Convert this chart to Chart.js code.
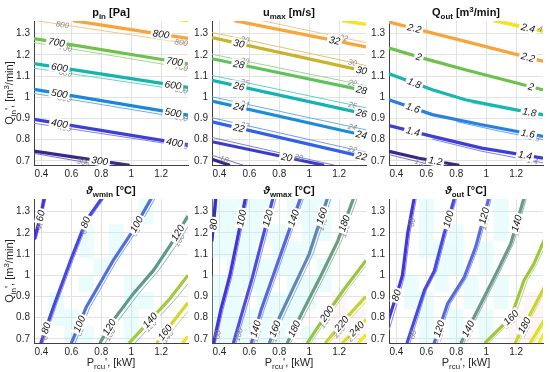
<!DOCTYPE html>
<html>
<head>
<meta charset="utf-8">
<script src="https://cdn.jsdelivr.net/npm/chart.js@4.4.1/dist/chart.umd.min.js"></script>
<style>
  html, body { margin: 0; padding: 0; background: #fff; }
  #wrap { position: relative; width: 550px; height: 372px; }
  #wrap canvas { position: absolute; left: 0; top: 0; }
</style>
</head>
<body>
<div id="wrap"></div>
<script>
// axes
var xTicks = [0.4, 0.6, 0.8, 1, 1.2];
var yTicks = [0.7, 0.8, 0.9, 1, 1.1, 1.2, 1.3];
var xRange = [0.35, 1.38];
var yRange = [0.68, 1.36];

// p_in [Pa]
var pinLevels = [300, 400, 500, 600, 700, 800, 900];
var pinThick = [
  [[0.35,0.746],[0.99,0.678]],
  [[0.35,0.896],[1.38,0.776]],
  [[0.35,1.037],[1.38,0.915]],
  [[0.35,1.159],[1.38,1.046]],
  [[0.35,1.277],[1.38,1.158]],
  [[0.61,1.362],[1.38,1.278]],
  [[1.31,1.368],[1.38,1.360]]
];
var pinThinLevels = [300, 400, 500, 600, 700, 800];
var pinThin = [
  [[0.35,0.735],[0.80,0.679]],
  [[0.35,0.877],[1.38,0.766]],
  [[0.35,1.018],[1.38,0.898]],
  [[0.35,1.137],[1.38,1.029]],
  [[0.35,1.258],[1.38,1.136]],
  [[0.35,1.363],[1.38,1.254]]
];

// u_max [m/s]
var umaxLevels = [18, 20, 22, 24, 26, 28, 30, 32, 34];
var umaxThick = [
  [[0.35,0.707],[0.47,0.679]],
  [[0.35,0.790],[1.10,0.679]],
  [[0.35,0.884],[1.38,0.716]],
  [[0.35,0.982],[1.38,0.818]],
  [[0.35,1.080],[1.38,0.920]],
  [[0.35,1.182],[1.38,1.030]],
  [[0.35,1.282],[1.38,1.122]],
  [[0.50,1.362],[1.38,1.238]],
  [[1.22,1.362],[1.38,1.344]]
];
var umaxThinLevels = [18, 20, 22, 24, 26, 28, 30, 32];
var umaxThin = [
  [[0.35,0.726],[0.56,0.679]],
  [[0.35,0.810],[1.17,0.679]],
  [[0.35,0.903],[1.38,0.740]],
  [[0.35,1.002],[1.38,0.846]],
  [[0.35,1.103],[1.38,0.950]],
  [[0.35,1.203],[1.38,1.055]],
  [[0.35,1.306],[1.38,1.150]],
  [[0.68,1.362],[1.38,1.258]]
];

// Q_out [m3/min]
var qoutLevels = [1.2, 1.4, 1.6, 1.8, 2, 2.2, 2.4];
var qoutThick = [
  [[0.35,0.745],[0.55,0.712],[0.82,0.679]],
  [[0.35,0.866],[0.64,0.815],[0.97,0.760],[1.38,0.712]],
  [[0.35,0.988],[0.64,0.918],[0.97,0.870],[1.38,0.815]],
  [[0.35,1.111],[0.64,1.035],[0.86,0.988],[1.20,0.941],[1.38,0.918]],
  [[0.35,1.232],[0.60,1.180],[0.86,1.130],[1.38,1.035]],
  [[0.35,1.355],[0.86,1.264],[1.38,1.170]],
  [[1.05,1.362],[1.38,1.311]]
];
var qoutThinLevels = [1.2, 1.4, 1.6, 1.8, 2, 2.2, 2.4];
var qoutThin = [
  [[0.35,0.729],[0.64,0.679]],
  [[0.64,0.802],[0.97,0.745],[1.38,0.690]],
  [[0.80,0.885],[1.10,0.838],[1.38,0.800]],
  [[0.90,0.974],[1.38,0.911]],
  [[1.00,1.105],[1.38,1.030]],
  [[1.00,1.238],[1.38,1.165]],
  [[1.10,1.362],[1.38,1.320]]
];

// theta_wmin [°C]
var wminLevels = [60, 80, 100, 120, 140, 160, 180];
var wminThick = [
  [[0.352,1.17],[0.39,1.27],[0.42,1.37]],
  [[0.395,0.679],[0.49,0.87],[0.60,1.08],[0.70,1.26],[0.81,1.37]],
  [[0.60,0.679],[0.70,0.85],[0.79,0.96],[0.88,1.07],[1.014,1.213],[1.14,1.37]],
  [[0.79,0.679],[0.88,0.787],[1.014,0.913],[1.15,1.024],[1.26,1.14],[1.38,1.28]],
  [[0.985,0.679],[1.126,0.787],[1.26,0.89],[1.38,1.0]],
  [[1.17,0.679],[1.28,0.78],[1.38,0.87]],
  [[1.34,0.679],[1.38,0.71]]
];
var wminThinLevels = [40, 60, 80, 100, 120, 140];
var wminThin = [
  [[0.365,1.17],[0.40,1.27],[0.432,1.37]],
  [[0.41,0.679],[0.505,0.87],[0.615,1.08],[0.715,1.26],[0.825,1.37]],
  [[0.625,0.679],[0.725,0.85],[0.815,0.96],[0.905,1.07],[1.04,1.213],[1.165,1.37]],
  [[0.825,0.679],[0.915,0.787],[1.05,0.913],[1.185,1.024],[1.30,1.14],[1.38,1.23]],
  [[1.025,0.679],[1.165,0.787],[1.30,0.89],[1.38,0.96]],
  [[1.21,0.679],[1.31,0.77],[1.38,0.83]]
];

// theta_wmax [°C]
var wmaxLevels = [80, 100, 120, 140, 160, 180, 200, 220, 240, 260];
var wmaxThick = [
  [[0.349,1.16],[0.362,1.26],[0.375,1.37]],
  [[0.36,0.679],[0.41,0.84],[0.47,1.0],[0.525,1.19],[0.575,1.37]],
  [[0.493,0.679],[0.55,0.82],[0.62,0.99],[0.69,1.18],[0.76,1.37]],
  [[0.613,0.679],[0.68,0.84],[0.77,1.02],[0.86,1.2],[0.945,1.37]],
  [[0.733,0.679],[0.80,0.80],[0.90,0.95],[1.0,1.1],[1.125,1.37]],
  [[0.853,0.679],[0.95,0.82],[1.08,1.0],[1.19,1.16],[1.30,1.37]],
  [[0.987,0.679],[1.10,0.80],[1.23,0.93],[1.38,1.07]],
  [[1.107,0.679],[1.25,0.80],[1.38,0.90]],
  [[1.22,0.679],[1.38,0.79]],
  [[1.327,0.679],[1.38,0.72]]
];
var wmaxThinLevels = [60, 80, 100, 120, 140, 160, 180, 200, 220];
var wmaxThin = [
  [[0.356,1.17],[0.385,1.37]],
  [[0.372,0.679],[0.425,0.84],[0.485,1.0],[0.54,1.19],[0.59,1.37]],
  [[0.51,0.679],[0.57,0.82],[0.64,0.99],[0.71,1.18],[0.78,1.37]],
  [[0.632,0.679],[0.70,0.84],[0.79,1.02],[0.88,1.2],[0.965,1.37]],
  [[0.755,0.679],[0.825,0.80],[0.925,0.95],[1.025,1.1],[1.15,1.37]],
  [[0.875,0.679],[0.975,0.82],[1.105,1.0],[1.215,1.16],[1.325,1.37]],
  [[1.01,0.679],[1.125,0.80],[1.255,0.93],[1.38,1.045]],
  [[1.13,0.679],[1.27,0.79],[1.38,0.875]],
  [[1.245,0.679],[1.38,0.77]]
];

// theta_out [°C]
var toutLevels = [80, 100, 120, 140, 160, 180, 200, 220];
var toutThick = [
  [[0.34,0.775],[0.40,0.905],[0.44,1.0],[0.475,1.2],[0.52,1.37]],
  [[0.47,0.679],[0.587,0.93],[0.653,1.02],[0.72,1.2],[0.79,1.37]],
  [[0.652,0.679],[0.742,0.866],[0.853,0.99],[0.93,1.134],[1.02,1.37]],
  [[0.83,0.679],[0.953,0.85],[1.075,1.02],[1.165,1.15],[1.255,1.37]],
  [[0.99,0.679],[1.165,0.80],[1.253,0.976],[1.32,1.055],[1.39,1.17]],
  [[1.193,0.679],[1.275,0.79],[1.39,0.945]],
  [[1.293,0.679],[1.39,0.79]],
  [[1.353,0.679],[1.39,0.73]]
];
var toutThinLevels = [60, 80, 100, 120, 140, 160, 180];
var toutThin = [
  [[0.35,0.74],[0.41,0.88],[0.455,1.0],[0.49,1.2],[0.535,1.37]],
  [[0.49,0.679],[0.60,0.93],[0.668,1.02],[0.735,1.2],[0.805,1.37]],
  [[0.672,0.679],[0.76,0.866],[0.87,0.99],[0.947,1.134],[1.037,1.37]],
  [[0.85,0.679],[0.972,0.85],[1.093,1.02],[1.182,1.15],[1.272,1.37]],
  [[1.015,0.679],[1.19,0.80],[1.275,0.976],[1.34,1.055],[1.39,1.13]],
  [[1.215,0.679],[1.295,0.79],[1.39,0.92]],
  [[1.315,0.679],[1.39,0.77]]
];

// faint background cells of the lower panels (1 cyan, -1 pink), rows bottom to top
var cellX = [0.35, 0.45, 0.55, 0.65, 0.75, 0.85, 0.95, 1.05, 1.15, 1.25, 1.38];
var cellY = [0.68, 0.76, 0.84, 0.92, 1.0, 1.08, 1.16, 1.24, 1.36];
var wminCells = [
  [0,0,1,1,0,0,1,0,0,0],
  [0,1,1,0,0,0,1,0,0,0],
  [0,1,0,0,0,0,1,1,0,0],
  [0,0,0,1,0,0,1,0,0,0],
  [0,0,0,0,1,0,0,0,0,0],
  [0,0,0,1,0,1,0,0,0,0],
  [0,0,0,1,0,1,0,0,0,0],
  [0,0,0,0,0,0,0,1,0,0]
];
var wmaxCells = [
  [1,1,1,1,1,0,1,0,-1,-1],
  [1,1,1,1,1,1,0,0,-1,-1],
  [1,1,0,1,1,1,1,0,-1,0],
  [1,1,1,1,0,1,1,1,0,0],
  [0,1,1,1,1,1,0,1,0,0],
  [1,1,1,0,1,1,1,0,0,0],
  [1,1,1,1,1,0,1,1,0,0],
  [1,1,1,1,0,1,1,1,0,0]
];
var toutCells = [
  [0,0,1,0,1,0,1,0,-1,-1],
  [0,0,1,0,1,0,1,0,-1,-1],
  [0,1,1,0,0,1,0,1,0,-1],
  [0,1,0,1,0,1,0,1,0,0],
  [0,0,0,1,1,0,1,0,0,0],
  [0,0,1,1,1,0,1,0,0,0],
  [0,0,1,0,1,0,0,1,0,0],
  [0,0,1,0,0,0,0,1,0,0]
];

var FONT = "'Liberation Sans', Arial, Helvetica, sans-serif";

// rich text: parts = [[text, kind]], kind '' | 'sub' | 'sup' | 'it'
function richWidth(ctx, parts, size, weight) {
  var w = 0;
  parts.forEach(function (p) {
    var s = (p[1] == 'sub' || p[1] == 'sup') ? size * 0.72 : size;
    ctx.font = (p[1] == 'it' ? 'italic ' : '') + weight + ' ' + s + 'px ' + FONT;
    w += ctx.measureText(p[0]).width;
  });
  return w;
}
function drawRich(ctx, parts, x, y, size, weight) {
  var w = richWidth(ctx, parts, size, weight);
  var cx = x - w / 2;
  ctx.textBaseline = 'alphabetic';
  ctx.textAlign = 'left';
  parts.forEach(function (p) {
    var s = size, dy = 0;
    if (p[1] == 'sub') { s = size * 0.72; dy = size * 0.3; }
    if (p[1] == 'sup') { s = size * 0.72; dy = -size * 0.4; }
    ctx.font = (p[1] == 'it' ? 'italic ' : '') + weight + ' ' + s + 'px ' + FONT;
    ctx.fillText(p[0], cx, y + dy);
    cx += ctx.measureText(p[0]).width;
  });
}

function fmt(v) { return String(Math.round(v * 10) / 10); }

// position of a contour label along a polyline, by x or by y value
function labelPoint(chart, data, key, v) {
  var xs = chart.scales.x, ys = chart.scales.y;
  for (var i = 0; i < data.length - 1; i++) {
    var a = data[i], b = data[i + 1];
    if ((v - a[key]) * (v - b[key]) <= 0 && a[key] != b[key]) {
      var t = (v - a[key]) / (b[key] - a[key]);
      var ax = xs.getPixelForValue(a.x), ay = ys.getPixelForValue(a.y);
      var bx = xs.getPixelForValue(b.x), by = ys.getPixelForValue(b.y);
      var ang = Math.atan2(by - ay, bx - ax);
      if (ang > Math.PI / 2) ang -= Math.PI;
      if (ang < -Math.PI / 2) ang += Math.PI;
      return { x: ax + t * (bx - ax), y: ay + t * (by - ay), ang: ang };
    }
  }
  return null;
}

var cellShade = {
  id: 'cellShade',
  beforeDatasetsDraw: function (chart) {
    var cells = chart.options.plugins.cellShade.cells;
    if (!cells) return;
    var ctx = chart.ctx, xs = chart.scales.x, ys = chart.scales.y, a = chart.chartArea;
    ctx.save();
    ctx.beginPath();
    ctx.rect(a.left, a.top, a.right - a.left, a.bottom - a.top);
    ctx.clip();
    cells.forEach(function (row, r) {
      row.forEach(function (c, k) {
        if (!c) return;
        ctx.fillStyle = c > 0 ? 'rgba(190,246,246,0.3)' : 'rgba(252,222,228,0.3)';
        var x0 = xs.getPixelForValue(cellX[k]), x1 = xs.getPixelForValue(cellX[k + 1]);
        var y0 = ys.getPixelForValue(cellY[r]), y1 = ys.getPixelForValue(cellY[r + 1]);
        ctx.fillRect(x0, y1, x1 - x0, y0 - y1);
      });
    });
    ctx.restore();
  }
};

var contourLabels = {
  id: 'contourLabels',
  afterDatasetsDraw: function (chart) {
    var ctx = chart.ctx;
    var key = chart.options.plugins.contourLabels.byY ? 'y' : 'x';
    [false, true].forEach(function (thickPass) {
      chart.data.datasets.forEach(function (ds) {
        if (!!ds.thick != thickPass || !ds.labelAt) return;
        ds.labelAt.forEach(function (v) {
          var p = labelPoint(chart, ds.data, key, v);
          if (!p) return;
          ctx.save();
          ctx.translate(p.x, p.y);
          ctx.rotate(p.ang);
          ctx.textAlign = 'center';
          ctx.textBaseline = 'middle';
          if (ds.thick) {
            ctx.font = 'italic 10px ' + FONT;
            var w = ctx.measureText(ds.labelText).width;
            ctx.fillStyle = '#fff';
            ctx.fillRect(-w / 2 - 2, -5, w + 4, 10);
            ctx.fillStyle = '#111';
          } else {
            ctx.font = 'italic 8px ' + FONT;
            ctx.fillStyle = '#8c8c8c';
          }
          ctx.fillText(ds.labelText, 0, 0.5);
          ctx.restore();
        });
      });
    });
  }
};

var panelText = {
  id: 'panelText',
  afterDraw: function (chart) {
    var o = chart.options.plugins.panelText, ctx = chart.ctx, a = chart.chartArea;
    ctx.save();
    ctx.fillStyle = '#111';
    drawRich(ctx, o.title, (a.left + a.right) / 2, a.top - 5, 11, 'bold');
    ctx.fillStyle = '#262626';
    if (o.yTitle) {
      ctx.save();
      ctx.translate(13, (a.top + a.bottom) / 2);
      ctx.rotate(-Math.PI / 2);
      drawRich(ctx, o.yTitle, 0, 0, 11, 'normal');
      ctx.restore();
    }
    if (o.xTitle) drawRich(ctx, o.xTitle, (a.left + a.right) / 2, a.bottom + 23, 11, 'normal');
    ctx.restore();
  }
};

function toPts(line) { return line.map(function (p) { return { x: p[0], y: p[1] }; }); }

function makePanel(p) {
  var cv = document.createElement('canvas');
  cv.width = 550; cv.height = 372;
  document.getElementById('wrap').appendChild(cv);
  var YW = 30, XH = 16;
  var datasets = [];
  p.thick.forEach(function (line, i) {
    datasets.push({
      data: toPts(line), borderColor: p.colors[i], borderWidth: 3.2, order: 0,
      thick: true, labelText: fmt(p.levels[i]), labelAt: p.labelAt[i]
    });
  });
  p.thin.forEach(function (line, i) {
    datasets.push({
      data: toPts(line), borderColor: p.thinColors[i], borderWidth: 1, order: 1,
      thick: false, labelText: fmt(p.thinLevels[i]), labelAt: p.thinLabelAt[i]
    });
  });
  new Chart(cv.getContext('2d'), {
    type: 'line',
    data: { datasets: datasets },
    options: {
      responsive: false,
      animation: false,
      events: [],
      layout: { padding: { left: p.left - YW, top: p.top, right: 550 - p.right, bottom: 372 - p.bottom - XH } },
      elements: { point: { radius: 0 }, line: { tension: 0, borderCapStyle: 'butt' } },
      datasets: { line: { clip: 0, fill: false } },
      plugins: {
        legend: { display: false },
        tooltip: { enabled: false },
        cellShade: { cells: p.cells },
        contourLabels: { byY: p.byY },
        panelText: { title: p.title, yTitle: p.yTitle, xTitle: p.xTitle }
      },
      scales: {
        x: {
          type: 'linear', min: xRange[0], max: xRange[1],
          afterBuildTicks: function (s) { s.ticks = xTicks.map(function (v) { return { value: v }; }); },
          afterFit: function (s) { s.height = XH; },
          grid: { color: '#e2e2e2', drawTicks: false },
          border: { color: '#404040', width: 1 },
          ticks: { padding: 3, color: '#262626', font: { family: FONT, size: 10 }, maxRotation: 0, callback: fmt }
        },
        y: {
          type: 'linear', min: yRange[0], max: yRange[1],
          afterBuildTicks: function (s) { s.ticks = yTicks.map(function (v) { return { value: v }; }); },
          afterFit: function (s) { s.width = YW; },
          grid: { color: '#e2e2e2', drawTicks: false },
          border: { color: '#404040', width: 1 },
          ticks: { padding: 4, color: '#262626', font: { family: FONT, size: 10 }, callback: fmt }
        }
      }
    },
    plugins: [cellShade, contourLabels, panelText]
  });
}

var qinTitle = [['Q', ''], ['in', 'sub'], ["', [m", ''], ['3', 'sup'], ['/min]', '']];
var prcuTitle = [['P', ''], ['rcu', 'sub'], ["', [kW]", '']];

makePanel({
  left: 34, right: 188, top: 21, bottom: 165, byY: false,
  title: [['p', ''], ['in', 'sub'], [' [Pa]', '']], yTitle: qinTitle,
  levels: pinLevels, thick: pinThick, thinLevels: pinThinLevels, thin: pinThin,
  colors: ['#352a87', '#3d3fd4', '#1a86dc', '#14b5aa', '#6cc24a', '#f9a43a', '#f4e41c'],
  thinColors: ['#7a70c8', '#8080ea', '#62b2ee', '#64d6c8', '#a2da88', '#f8c486'],
  labelAt: [[0.79], [0.52, 1.29], [0.52, 1.28], [0.52, 1.28], [0.50, 1.29], [1.2], []],
  thinLabelAt: [[0.68], [0.555, 1.335], [0.555, 1.335], [0.56, 1.335], [0.56, 1.335], [0.54, 1.335]]
});
makePanel({
  left: 212, right: 366, top: 21, bottom: 165, byY: false,
  title: [['u', ''], ['max', 'sub'], [' [m/s]', '']],
  levels: umaxLevels, thick: umaxThick, thinLevels: umaxThinLevels, thin: umaxThin,
  colors: ['#352a87', '#3b3cc8', '#2f62e6', '#1a8cd8', '#12b3b2', '#5ec25a', '#c8b42a', '#f8a63a', '#f4e41c'],
  thinColors: ['#7a70c8', '#7e7ee0', '#7896f0', '#62b2e8', '#60d0cc', '#98d894', '#e6c070', '#f8c486'],
  labelAt: [[], [0.85], [0.53, 1.35], [0.53, 1.35], [0.53, 1.35], [0.53, 1.35], [0.53, 1.35], [1.17], []],
  thinLabelAt: [[0.43], [0.93], [0.57, 1.29], [0.57, 1.29], [0.57, 1.29], [0.57, 1.29], [0.57, 1.29], [1.23]]
});
makePanel({
  left: 389, right: 543, top: 21, bottom: 165, byY: false,
  title: [['Q', ''], ['out', 'sub'], [' [m', ''], ['3', 'sup'], ['/min]', '']],
  levels: qoutLevels, thick: qoutThick, thinLevels: qoutThinLevels, thin: qoutThin,
  colors: ['#35288a', '#3e3ed6', '#2a80e0', '#16b7b0', '#6cc14c', '#f8a43c', '#f4e41c'],
  thinColors: ['#7a70c8', '#8080ea', '#62a8ee', '#64d6c8', '#a2da88', '#f8c486', '#f4ea80'],
  labelAt: [[0.66], [0.51, 1.26], [0.51, 1.28], [0.52, 1.29], [0.55, 1.30], [0.52, 1.28], [1.28]],
  thinLabelAt: [[0.56], [1.31], [1.32], [], [], [], [1.34]]
});
makePanel({
  left: 34, right: 188, top: 199, bottom: 343, byY: true, cells: wminCells,
  title: [['\u03d1', 'it'], ['wmin', 'sub'], [' [\u00b0C]', '']], yTitle: qinTitle, xTitle: prcuTitle,
  levels: wminLevels, thick: wminThick, thinLevels: wminThinLevels, thin: wminThin,
  colors: ['#4733d6', '#4a47e0', '#5170d8', '#5e9a88', '#a6c83c', '#d6d62a', '#ece424'],
  thinColors: ['#9088e8', '#8a8cf0', '#80a2e4', '#8cb0bc', '#a8b4a4', '#cccc90'],
  labelAt: [[1.28], [1.25, 0.75], [1.24, 0.77], [1.2, 0.755], [0.787], [0.73], []],
  thinLabelAt: [[1.235], [1.215, 0.715], [1.205, 0.735], [1.165, 0.72], [0.76], [0.71]]
});
makePanel({
  left: 212, right: 366, top: 199, bottom: 343, byY: true, cells: wmaxCells,
  title: [['\u03d1', 'it'], ['wmax', 'sub'], [' [\u00b0C]', '']], xTitle: prcuTitle,
  levels: wmaxLevels, thick: wmaxThick, thinLevels: wmaxThinLevels, thin: wmaxThin,
  colors: ['#3a2ec0', '#4535d6', '#4e4de0', '#5a66da', '#5f88b8', '#6a9c84', '#9cc444', '#c4d232', '#dcdc2a', '#f2ea1c'],
  thinColors: ['#8a84e0', '#8a84ec', '#8c8cf0', '#8ca0ec', '#90b0d0', '#9cbcaa', '#bcd888', '#d8e07c', '#e8e87c'],
  labelAt: [[1.24], [1.27], [1.27], [1.27, 0.747], [1.28, 0.747], [1.245, 0.747], [0.818], [0.771], [0.747], []],
  thinLabelAt: [[], [0.72], [0.72], [0.715], [1.24, 0.715], [1.21], [0.78], [0.735], [0.715]]
});
makePanel({
  left: 389, right: 543, top: 199, bottom: 343, byY: true, cells: toutCells,
  title: [['\u03d1', 'it'], ['out', 'sub'], [' [\u00b0C]', '']], xTitle: prcuTitle,
  levels: toutLevels, thick: toutThick, thinLevels: toutThinLevels, thin: toutThin,
  colors: ['#4636d8', '#4a4ae0', '#5a6ad8', '#6a9a8a', '#a0c63e', '#cad432', '#e2de26', '#f4ea1c'],
  thinColors: ['#8a84ec', '#8c8cf0', '#8aa0e8', '#90b4b0', '#bcd888', '#d8e07c', '#ecec80'],
  labelAt: [[0.905], [1.265], [1.28, 0.747], [1.245, 0.747], [0.80], [0.763], [], []],
  thinLabelAt: [[1.25, 0.72], [0.72], [1.245, 0.72], [1.215, 0.72], [0.775], [0.74], []]
});
</script>
</body>
</html>
